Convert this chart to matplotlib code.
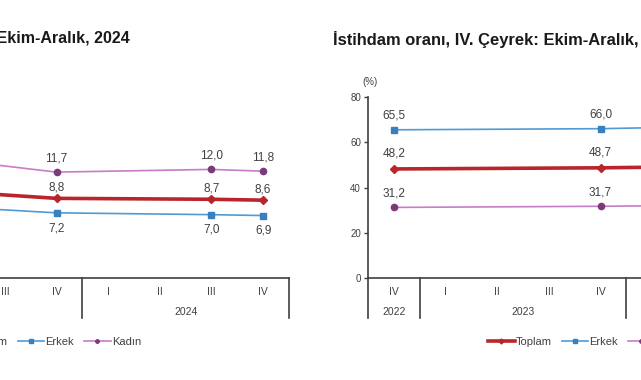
import numpy as np
import matplotlib
matplotlib.use("Agg")
import matplotlib.pyplot as plt
import matplotlib.transforms as mtransforms

plt.rcParams['font.family'] = ['Liberation Sans', 'DejaVu Sans']

# quarters shown on both charts: IV 2022, I-IV 2023, I-IV 2024
quarters = ["IV", "I", "II", "III", "IV", "I", "II", "III", "IV"]
years = ["2022", "2023", "2024"]
year_spans = [(0, 0), (1, 4), (5, 8)]

# unemployment rate (left chart), None = no observation
unemp_total = [10.3, None, None, None, 8.8, None, None, 8.7, 8.6]
unemp_male = [8.5, None, None, None, 7.2, None, None, 7.0, 6.9]
unemp_female = [14.4, None, None, None, 11.7, None, None, 12.0, 11.8]

# employment rate (right chart)
emp_total = [48.2, None, None, None, 48.7, None, None, 49.5, 49.2]
emp_male = [65.5, None, None, None, 66.0, None, None, 67.3, 66.9]
emp_female = [31.2, None, None, None, 31.7, None, None, 32.3, 31.8]

series_names = ["Toplam", "Erkek", "Kadın"]

RED = "#b8262c"
BLUE = "#4f9bd4"
PURPLE_LINE = "#c77dc7"
PURPLE_MK = "#7b3a7b"
AXIS = "#404040"
TXT = "#404040"

W, H = 641, 380
fig = plt.figure(figsize=(W / 100, H / 100), dpi=100)

ax_w = 465 / W
ax_h = 181 / H
ax_b = (H - 278) / H
ax_left = fig.add_axes([-176 / W, ax_b, ax_w, ax_h])
ax_right = fig.add_axes([368 / W, ax_b, ax_w, ax_h])


def fmt(v):
    return f"{v:.1f}".replace(".", ",")


def draw_series(ax, vals, style, label_dy):
    x = np.array([i for i, v in enumerate(vals) if v is not None])
    y = np.array([v for v in vals if v is not None])
    ax.plot(x, y, **style)
    for xi, yi in zip(x, y):
        ax.annotate(fmt(yi), (xi, yi), xytext=(0, label_dy), textcoords="offset points",
                    ha="center", va="center", fontsize=8.5, color=TXT)


def setup(ax, ymax, yticks, datasets, offsets, legend_x):
    styles = [
        dict(color=RED, lw=2.6, marker="D", ms=4.5, mfc=RED, mec=RED, label="Toplam"),
        dict(color=BLUE, lw=1.2, marker="s", ms=4.5, mfc="#3a7fbf", mec="#3a7fbf", label="Erkek"),
        dict(color=PURPLE_LINE, lw=1.2, marker="o", ms=4.5, mfc=PURPLE_MK, mec=PURPLE_MK, label="Kadın"),
    ]
    # draw Kadın, Erkek then Toplam on top
    for idx in [2, 1, 0]:
        draw_series(ax, datasets[idx], styles[idx], offsets[idx])

    ax.set_xlim(-0.5, len(quarters) - 0.5)
    ax.set_ylim(0, ymax)
    ax.set_yticks(yticks)
    ax.tick_params(axis="y", labelsize=7, colors=TXT, length=3, width=1, pad=2)
    ax.set_xticks([])
    for s in ["top", "right"]:
        ax.spines[s].set_visible(False)
    for s in ["left", "bottom"]:
        ax.spines[s].set_color(AXIS)
        ax.spines[s].set_linewidth(1.2)

    tr = mtransforms.blended_transform_factory(ax.transData, ax.transAxes)
    below = -40 / 181
    for xs in [-0.5, 0.5, 4.5, 8.5]:
        ax.plot([xs, xs], [0, below], transform=tr, color=AXIS, lw=1.2, clip_on=False)
    for i, q in enumerate(quarters):
        ax.text(i, -14 / 181, q, transform=tr, ha="center", va="center", fontsize=7.5, color=TXT)
    for yr, (a, b) in zip(years, year_spans):
        ax.text((a + b) / 2, -34 / 181, yr, transform=tr, ha="center", va="center", fontsize=7.5, color=TXT)

    ax.text(0.005, 1.085, "(%)", transform=ax.transAxes, ha="center", va="center", fontsize=7, color=TXT)

    handles = [plt.Line2D([], [], **dict(st, ms=2.5)) for st in styles]
    ax.legend(handles=handles, labels=series_names, loc="center", bbox_to_anchor=(legend_x, -64 / 181),
              ncol=3, frameon=False, fontsize=8, handlelength=2.4, handletextpad=0.1,
              columnspacing=0.9, labelcolor=TXT)


setup(ax_left, 20, [0, 4, 8, 12, 16, 20], [unemp_total, unemp_male, unemp_female],
      [8, -11, 10], 0.47)
setup(ax_right, 80, [0, 20, 40, 60, 80], [emp_total, emp_male, emp_female],
      [11, 10, 10], 0.47)

fig.text(130 / W, 1 - 38 / H, "İşsizlik oranı, IV. Çeyrek: Ekim-Aralık, 2024",
         ha="right", va="center", fontsize=11.5, fontweight="bold", color="#1a1a1a")
fig.text(333 / W, 1 - 40 / H, "İstihdam oranı, IV. Çeyrek: Ekim-Aralık, 2024",
         ha="left", va="center", fontsize=11.9, fontweight="bold", color="#1a1a1a")

fig.savefig("out.png", dpi=100)
